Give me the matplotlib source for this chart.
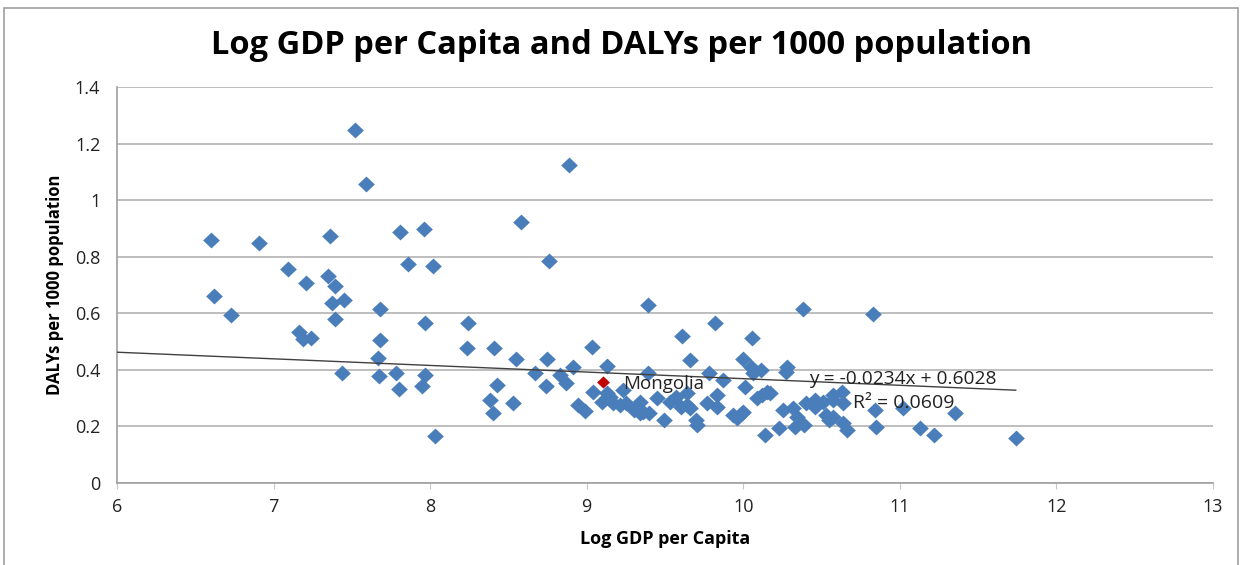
import matplotlib
matplotlib.use("Agg")
import matplotlib.pyplot as plt
from matplotlib.patches import Rectangle
from matplotlib.path import Path

# ---- data ----
log_gdp = [
    7.52, 7.59, 6.60, 6.905, 7.36, 7.81, 7.96, 7.09, 7.205, 7.35, 7.39, 7.86, 8.02,
    6.62, 6.73, 7.37, 7.45, 7.39, 7.68, 7.97, 8.24, 7.16, 7.19, 7.24, 7.68, 8.235,
    7.67, 7.435, 7.675, 7.78, 7.80, 7.97, 7.95, 8.03,
    8.886, 8.58, 8.76, 9.39, 10.38, 9.82, 9.61, 10.055, 8.41, 9.035, 8.55, 8.745,
    9.66, 10.0, 8.67, 8.91, 9.13, 9.39, 9.78, 10.28, 10.05, 10.11, 8.43, 8.74, 8.83,
    8.87, 9.04, 9.87, 10.01, 8.38, 8.53, 8.40, 8.945, 8.99, 9.15, 9.21, 9.30, 9.34,
    9.45, 9.495, 9.57, 9.64, 9.705, 9.83, 9.83, 9.935, 9.99, 10.12, 10.17, 10.14,
    10.23, 10.33, 10.255, 10.40, 10.32, 10.55, 10.57,
    9.13, 9.10, 9.17, 9.23, 9.25, 9.36, 9.40, 9.34, 9.53, 9.60, 9.64, 9.66, 9.70,
    9.77, 10.06, 10.15, 10.09, 10.00, 9.96, 10.34, 10.46, 10.27, 10.46, 10.51,
    10.57, 10.63, 10.64, 10.57, 10.64, 10.66, 10.39, 10.53,
    10.83, 10.84, 10.845, 11.02, 11.13, 11.22, 11.35, 11.74,
]
dalys = [
    1.249, 1.057, 0.859, 0.849, 0.873, 0.888, 0.898, 0.757, 0.708, 0.733, 0.695, 0.773, 0.766,
    0.661, 0.593, 0.636, 0.648, 0.580, 0.615, 0.567, 0.567, 0.535, 0.508, 0.514, 0.504, 0.478,
    0.443, 0.390, 0.379, 0.390, 0.331, 0.382, 0.342, 0.166,
    1.125, 0.924, 0.784, 0.628, 0.615, 0.567, 0.520, 0.512, 0.479, 0.482, 0.439, 0.439,
    0.435, 0.439, 0.388, 0.409, 0.412, 0.388, 0.388, 0.409, 0.409, 0.400, 0.347, 0.343, 0.382,
    0.353, 0.323, 0.364, 0.341, 0.294, 0.282, 0.247, 0.276, 0.256, 0.305, 0.276, 0.258, 0.247,
    0.300, 0.223, 0.305, 0.276, 0.205, 0.311, 0.270, 0.241, 0.247, 0.311, 0.317, 0.170,
    0.193, 0.199, 0.258, 0.282, 0.264, 0.223, 0.294,
    0.317, 0.288, 0.283, 0.329, 0.283, 0.251, 0.248, 0.288, 0.288, 0.270, 0.317, 0.265, 0.223,
    0.283, 0.389, 0.323, 0.301, 0.252, 0.230, 0.235, 0.270, 0.394, 0.294, 0.288,
    0.311, 0.323, 0.283, 0.235, 0.212, 0.188, 0.205, 0.241,
    0.596, 0.258, 0.199, 0.264, 0.193, 0.170, 0.249, 0.160,
]
mongolia_label = "Mongolia"
mongolia_x = [9.105]
mongolia_y = [0.356]

trend_slope = -0.0234
trend_intercept = 0.6028
trend_r2 = 0.0609

x_ticks = [6, 7, 8, 9, 10, 11, 12, 13]
y_ticks = [0, 0.2, 0.4, 0.6, 0.8, 1.0, 1.2, 1.4]
y_tick_labels = ["0", "0.2", "0.4", "0.6", "0.8", "1", "1.2", "1.4"]

title = "Log GDP per Capita and DALYs per 1000 population"
x_label = "Log GDP per Capita"
y_label = "DALYs per 1000 population"

# ---- styling ----
plt.rcParams['font.family'] = ['Open Sans', 'DejaVu Sans']
BLUE = "#4A7EBB"
RED = "#C00000"
GRID = "#B3B3B3"

diamond = Path([(0, 0.95), (1, 0), (0, -0.95), (-1, 0), (0, 0.95)],
               [Path.MOVETO, Path.LINETO, Path.LINETO, Path.LINETO, Path.CLOSEPOLY])

fig = plt.figure(figsize=(12.44, 5.65), dpi=100)
fig.patches.append(Rectangle((4 / 1244, -0.01), 1234 / 1244, 1 - 8 / 565 + 0.01,
                             transform=fig.transFigure, fill=False,
                             edgecolor="#A0A0A0", linewidth=1.2))

ax = fig.add_axes([117 / 1244, 82 / 565, 1096 / 1244, 396 / 565])
ax.set_xlim(6, 13)
ax.set_ylim(0, 1.4)

ax.set_yticks(y_ticks)
ax.set_yticklabels(y_tick_labels)
ax.set_xticks(x_ticks)
ax.grid(axis='y', color=GRID, linewidth=1.2)
ax.set_axisbelow(True)
for side in ("top", "right"):
    ax.spines[side].set_visible(False)
for side in ("left", "bottom"):
    ax.spines[side].set_color("#A0A0A0")
    ax.spines[side].set_linewidth(1.2)
ax.tick_params(axis='y', length=0, pad=12, labelsize=13, colors="#333333")
ax.tick_params(axis='x', length=4, pad=7, labelsize=13, colors="#333333",
               color="#C8C8C8")
for lab in ax.get_xticklabels() + ax.get_yticklabels():
    lab.set_color("#222222")

ax.scatter(log_gdp, dalys, marker=diamond, s=145, color=BLUE, linewidths=0, zorder=3)
ax.scatter(mongolia_x, mongolia_y, marker=diamond, s=85, color=RED, linewidths=0, zorder=4)
ax.text(mongolia_x[0] + 0.13, mongolia_y[0] - 0.005, mongolia_label, fontsize=13.5,
        va='center', ha='left', color="#222222", zorder=5)

# trendline
tx = [6, max(log_gdp)]
ty = [trend_slope * v + trend_intercept for v in tx]
ax.plot(tx, ty, color="#404040", linewidth=1.0, zorder=4)
ax.text(10.42, 0.368, f"y = {trend_slope}x + {trend_intercept}", fontsize=13.8,
        ha='left', va='center', color="#222222", zorder=5)
ax.text(10.7, 0.283, f"R² = {trend_r2}", fontsize=14,
        ha='left', va='center', color="#222222", zorder=5)

fig.text(0.5, 1 - 45 / 565, title, ha='center', va='center', fontsize=23.5,
         fontweight='bold', color="black")
ax.set_xlabel(x_label, fontsize=13, fontweight='bold', labelpad=10)
ax.set_ylabel(y_label, fontsize=12, fontweight='bold', labelpad=8)

fig.savefig("out.png", dpi=100)
